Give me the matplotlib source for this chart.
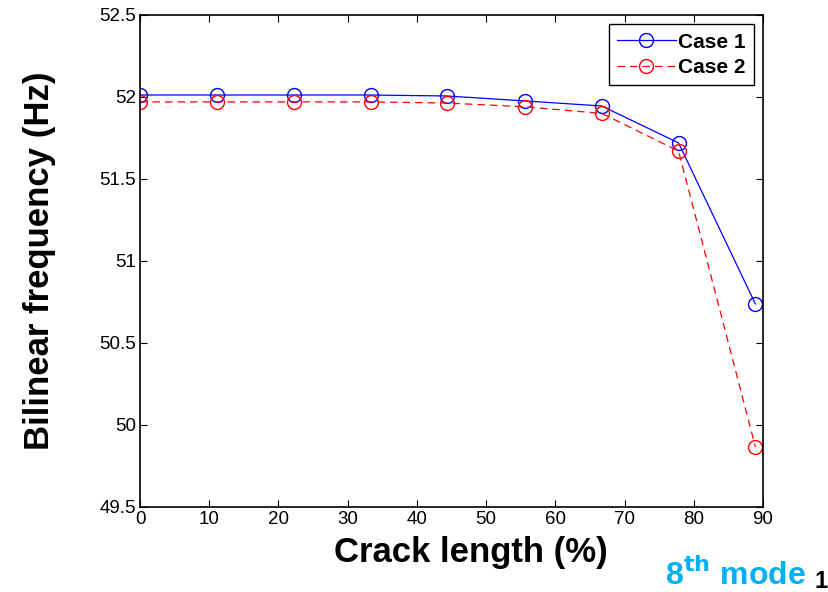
import numpy as np
import matplotlib.pyplot as plt

plt.rcParams['font.family'] = ['Liberation Sans', 'DejaVu Sans']

crack = [0, 11.1, 22.2, 33.3, 44.4, 55.6, 66.7, 77.8, 88.9]
case1 = [52.012, 52.012, 52.012, 52.012, 52.006, 51.976, 51.945, 51.72, 50.738]
case2 = [51.97, 51.97, 51.97, 51.97, 51.963, 51.94, 51.90, 51.67, 49.866]

fig = plt.figure(figsize=(8.29, 5.92), dpi=100)
ax = fig.add_axes([0.1689, 0.1436, 0.7515, 0.8311])

ax.plot(crack, case1, 'b-', marker='o', mfc='none', ms=10, lw=0.9, label='Case 1')
ax.plot(crack, case2, 'r--', marker='o', mfc='none', ms=10, lw=0.9, dashes=(6, 4),
        label='Case 2')

ax.set_xlim(0, 90)
ax.set_ylim(49.5, 52.5)
ax.set_xticks(np.arange(0, 91, 10))
ax.set_yticks([49.5, 50, 50.5, 51, 51.5, 52, 52.5])
ax.set_yticklabels(['49.5', '50', '50.5', '51', '51.5', '52', '52.5'])
ax.tick_params(direction='in', top=True, right=True, labelsize=13.5, length=5, pad=3)
for s in ax.spines.values():
    s.set_linewidth(1.2)

ax.set_xlabel('Crack length (%)', fontsize=25, fontweight='bold', labelpad=6)
ax.xaxis.label.set_x(0.531)
ax.set_ylabel('Bilinear frequency (Hz)', fontsize=25, fontweight='bold', labelpad=31)

leg = ax.legend(loc='upper right', prop={'size': 15, 'weight': 'bold'},
                fancybox=False, edgecolor='black', framealpha=1,
                borderpad=0.4, labelspacing=0.3, handlelength=2.8, handletextpad=0.1,
                borderaxespad=0.45)
leg.get_frame().set_linewidth(1.0)

fig.text(0.802, 0.012, r'8$^{\mathbf{th}}$ mode', color='#00B0F0', fontsize=23,
         fontweight='bold', va='baseline')
fig.text(0.982, 0.006, '1', color='black', fontsize=17, fontweight='bold', va='baseline')

plt.savefig('out.png', dpi=100)
